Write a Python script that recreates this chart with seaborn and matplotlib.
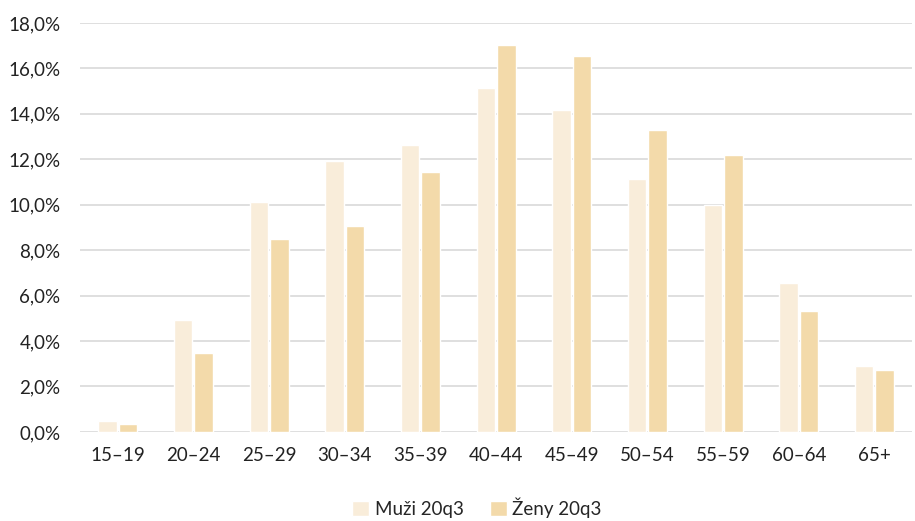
import pandas as pd
import matplotlib
matplotlib.use("Agg")
import matplotlib.pyplot as plt
import seaborn as sns
from matplotlib.ticker import FuncFormatter

# age groups and shares (%)
vekove_skupiny = ['15–19', '20–24', '25–29', '30–34', '35–39', '40–44',
                  '45–49', '50–54', '55–59', '60–64', '65+']
muzi = [0.48, 4.93, 10.12, 11.93, 12.63, 15.14, 14.17, 11.14, 9.99, 6.56, 2.90]
zeny = [0.35, 3.48, 8.49, 9.07, 11.44, 17.03, 16.55, 13.29, 12.19, 5.33, 2.73]
serie = ['Muži 20q3', 'Ženy 20q3']

df = pd.DataFrame({
    'skupina': vekove_skupiny * 2,
    'podil': muzi + zeny,
    'serie': [serie[0]] * len(muzi) + [serie[1]] * len(zeny),
})

sns.set_theme(style='white')
plt.rcParams['font.family'] = ['Lato', 'DejaVu Sans']

fig = plt.figure(figsize=(9.15, 5.21), dpi=100)
ax = fig.add_axes([0.0874, 0.171, 0.9096, 0.785])

sns.barplot(data=df, x='skupina', y='podil', hue='serie',
            palette=['#F9EDDA', '#F3DAAA'], width=0.54, gap=0.1,
            saturation=1, ax=ax)

ax.set_ylim(0, 18)
ax.set_yticks(range(0, 19, 2))
ax.yaxis.set_major_formatter(FuncFormatter(lambda v, p: f'{v:.1f}%'.replace('.', ',')))
ax.grid(axis='y', color='#D9D9D9', linewidth=1.2)
ax.set_axisbelow(True)
sns.despine(ax=ax, left=True, bottom=True, top=True, right=True)
ax.tick_params(axis='both', labelsize=13.5, colors='#222222', length=0)
ax.tick_params(axis='y', pad=14)
ax.tick_params(axis='x', pad=11)
ax.set_xlabel('')
ax.set_ylabel('')

ax.legend(loc='center', bbox_to_anchor=(0.477, -0.185), ncol=2, frameon=False,
          fontsize=13.5, handlelength=0.9, handleheight=0.9, handletextpad=0.3,
          columnspacing=1.4)

fig.savefig('out.png', dpi=100)
